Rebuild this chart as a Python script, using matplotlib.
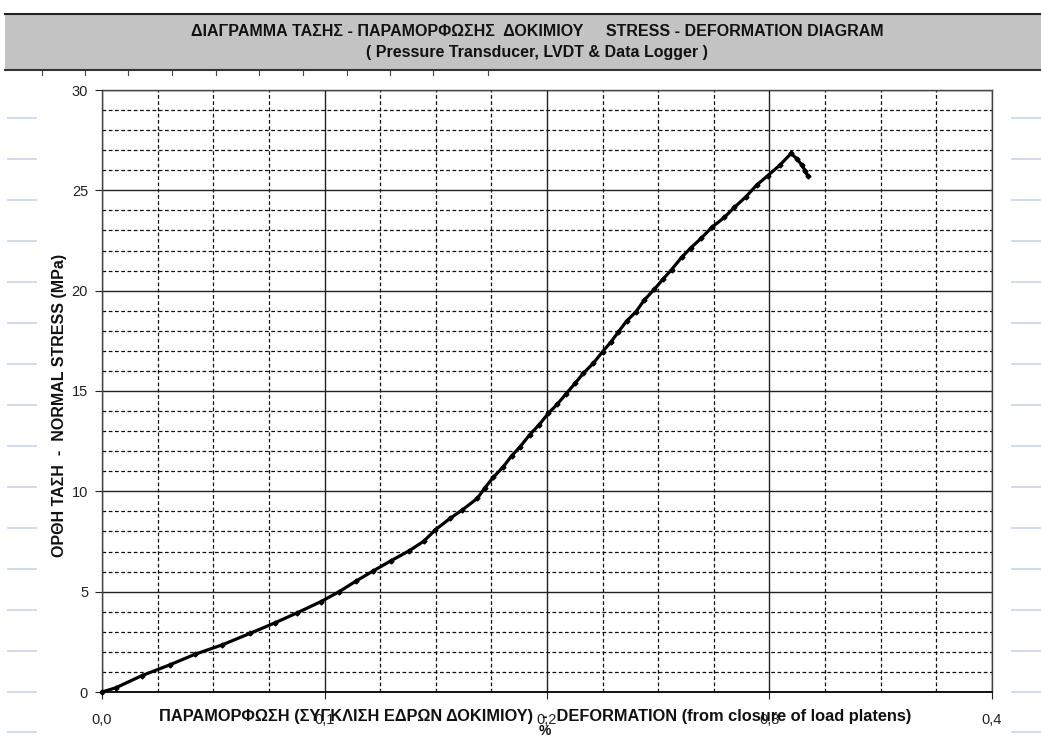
import matplotlib
matplotlib.use("Agg")
import matplotlib.pyplot as plt
from matplotlib.ticker import MultipleLocator, FuncFormatter
from matplotlib.lines import Line2D
from matplotlib.patches import Rectangle

# ---- data (deformation %, stress MPa) ----
deformation = [0.0, 0.0062, 0.0178, 0.0304, 0.0418, 0.0538, 0.0665, 0.0778, 0.0878,
               0.0983, 0.1066, 0.1142, 0.1220, 0.1297, 0.1381, 0.1447, 0.1497, 0.1564,
               0.1619, 0.1687, 0.1721, 0.1759, 0.1804, 0.1841, 0.1879, 0.1922, 0.1965,
               0.2006, 0.2047, 0.2085, 0.2126, 0.2163, 0.2208, 0.2250, 0.2288, 0.2321,
               0.2358, 0.2400, 0.2437, 0.2482, 0.2520, 0.2560, 0.2605, 0.2647, 0.2692,
               0.2740, 0.2797, 0.2842, 0.2894, 0.2942, 0.2992, 0.3047, 0.3097, 0.3125,
               0.3145, 0.3160, 0.3172]
stress = [0.0, 0.21, 0.81, 1.35, 1.88, 2.34, 2.92, 3.45, 3.95,
          4.50, 5.00, 5.53, 6.04, 6.53, 7.04, 7.52, 8.07, 8.65,
          9.07, 9.65, 10.18, 10.70, 11.23, 11.77, 12.22, 12.82, 13.32,
          13.89, 14.35, 14.85, 15.38, 15.88, 16.38, 16.96, 17.45, 17.95,
          18.49, 18.95, 19.53, 20.06, 20.56, 21.05, 21.66, 22.14, 22.60,
          23.15, 23.65, 24.15, 24.68, 25.26, 25.73, 26.26, 26.84, 26.55,
          26.26, 25.98, 25.71]

x_ticks = [0.0, 0.1, 0.2, 0.3, 0.4]
y_ticks = [0, 5, 10, 15, 20, 25, 30]

title_line1 = "ΔΙΑΓΡΑΜΜΑ ΤΑΣΗΣ - ΠΑΡΑΜΟΡΦΩΣΗΣ  ΔΟΚΙΜΙΟΥ     STRESS - DEFORMATION DIAGRAM"
title_line2 = "( Pressure Transducer, LVDT & Data Logger )"
ylabel = "ΟΡΘΗ ΤΑΣΗ  -  NORMAL STRESS (MPa)"
xlabel = "ΠΑΡΑΜΟΡΦΩΣΗ (ΣΥΓΚΛΙΣΗ ΕΔΡΩΝ ΔΟΚΙΜΙΟΥ)  -  DEFORMATION (from closure of load platens)"

plt.rcParams['font.family'] = ['Liberation Sans', 'DejaVu Sans']

W, H = 1041, 740
fig = plt.figure(figsize=(W / 100, H / 100), dpi=100)

# spreadsheet row marks at the sides
for yy in [118, 159, 200, 241, 282, 323, 364, 405, 446, 487, 528, 569, 610, 651, 692, 732]:
    fig.add_artist(Line2D([8 / W, 36 / W], [1 - yy / H, 1 - yy / H], color='#c8d4e6', lw=1.2))
    fig.add_artist(Line2D([1012 / W, 1041 / W], [1 - yy / H, 1 - yy / H], color='#c8d4e6', lw=1.2))

# title band
fig.add_artist(Rectangle((5 / W, 1 - 71 / H), 1 - 5 / W, 57 / H, facecolor='#c3c3c3',
                         edgecolor='none'))
fig.add_artist(Line2D([5 / W, 1], [1 - 14 / H, 1 - 14 / H], color='#222222', lw=1.5))
fig.add_artist(Line2D([5 / W, 1], [1 - 70 / H, 1 - 70 / H], color='#333333', lw=1.5))
for xx in [42, 85, 128, 172, 216, 259, 303, 347, 390, 433, 488]:
    fig.add_artist(Line2D([xx / W, xx / W], [1 - 71 / H, 1 - 75 / H], color='#444444', lw=0.8))
fig.text(0.516, 1 - 32 / H, title_line1, ha='center', va='center', fontsize=11.5,
         fontweight='bold', color='#111111')
fig.text(0.516, 1 - 52 / H, title_line2, ha='center', va='center', fontsize=11.5,
         fontweight='bold', color='#111111')

ax = fig.add_axes([102 / W, 1 - 692 / H, 890 / W, 602 / H])
ax.set_xlim(0, 0.4)
ax.set_ylim(0, 30)

ax.xaxis.set_major_locator(MultipleLocator(0.1))
ax.xaxis.set_minor_locator(MultipleLocator(0.025))
ax.yaxis.set_major_locator(MultipleLocator(5))
ax.yaxis.set_minor_locator(MultipleLocator(1))
ax.set_xticks(x_ticks)
ax.set_yticks(y_ticks)
ax.xaxis.set_major_formatter(FuncFormatter(lambda v, p: f"{v:.1f}".replace('.', ',')))
ax.yaxis.set_major_formatter(FuncFormatter(lambda v, p: f"{int(round(v))}"))

ax.grid(which='major', color='#222222', lw=1.0, ls='-')
ax.grid(which='minor', color='#111111', lw=0.9, ls=(0, (3, 2)))
ax.set_axisbelow(True)

ax.tick_params(axis='both', which='major', direction='out', length=5, width=0.8,
               labelsize=10.5, colors='#222222', pad=5)
ax.tick_params(axis='x', which='major', pad=10)
ax.tick_params(axis='both', which='minor', length=0)
for s in ax.spines.values():
    s.set_color('#444444')
    s.set_linewidth(1.0)
ax.spines['bottom'].set_color('#111111')
ax.spines['bottom'].set_linewidth(1.4)

ax.plot(deformation, stress, color='black', lw=2.3, marker='D', markersize=2.5,
        markerfacecolor='black', markeredgecolor='black', zorder=5, clip_on=False)

fig.text(60 / W, 1 - 405 / H, ylabel, rotation=90, ha='center', va='center',
         fontsize=11.5, fontweight='bold', color='#111111')
fig.text(535 / W, 1 - 716 / H, xlabel, ha='center', va='center', fontsize=11.8,
         fontweight='bold', color='#111111')
fig.text(545 / W, 1 - 731 / H, "%", ha='center', va='center', fontsize=10,
         fontweight='bold', color='#111111')

fig.savefig("out.png", dpi=100)
